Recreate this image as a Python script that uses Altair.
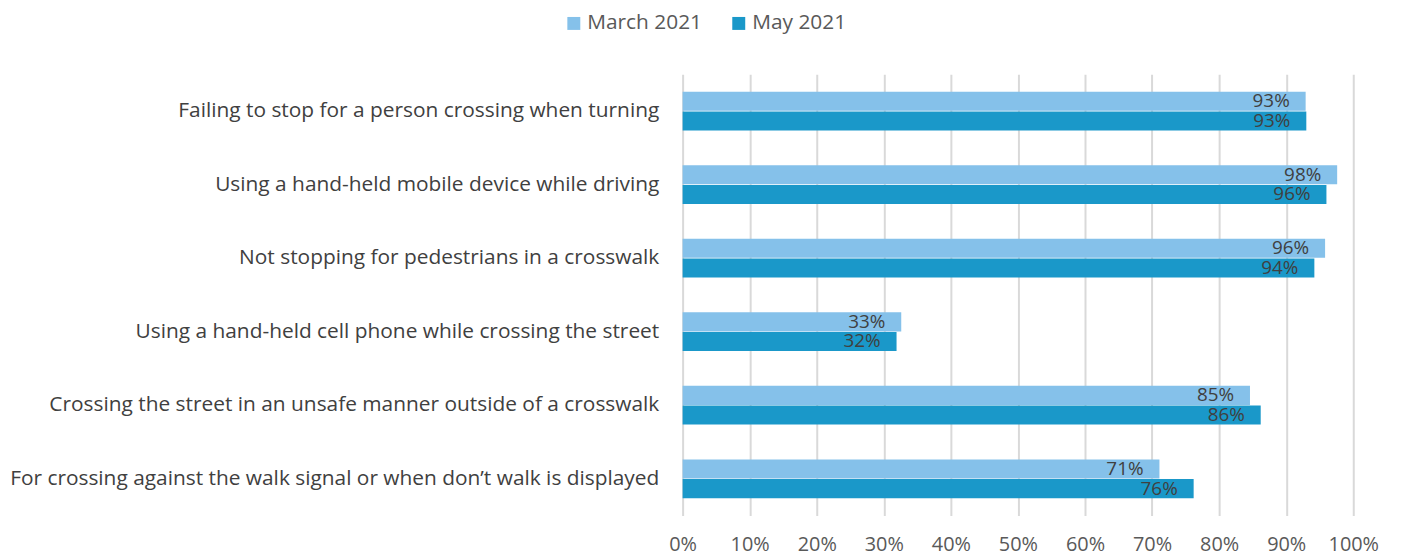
import altair as alt
import pandas as pd

categories = [
    "Failing to stop for a person crossing when turning",
    "Using a hand-held mobile device while driving",
    "Not stopping for pedestrians in a crosswalk",
    "Using a hand-held cell phone while crossing the street",
    "Crossing the street in an unsafe manner outside of a crosswalk",
    "For crossing against the walk signal or when don\u2019t walk is displayed",
]
series = ["March 2021", "May 2021"]
march_2021 = [0.929, 0.976, 0.958, 0.326, 0.846, 0.711]
may_2021 = [0.930, 0.960, 0.942, 0.319, 0.862, 0.762]
colors = ["#85C1EA", "#1A98C9"]
tick_values = [0, 0.1, 0.2, 0.3, 0.4, 0.5, 0.6, 0.7, 0.8, 0.9, 1.0]

rows = []
for c, a, b in zip(categories, march_2021, may_2021):
    rows.append({"category": c, "series": series[0], "value": a})
    rows.append({"category": c, "series": series[1], "value": b})
df = pd.DataFrame(rows)

FONT = "Open Sans"

y_enc = alt.Y(
    "category:N",
    sort=categories,
    scale=alt.Scale(paddingInner=0.473, paddingOuter=0.236),
    axis=alt.Axis(
        title=None,
        domain=False,
        ticks=False,
        grid=False,
        labelFont=FONT,
        labelFontSize=21,
        labelColor="#404040",
        labelPadding=24,
        labelLimit=900,
    ),
)
x_enc = alt.X(
    "value:Q",
    scale=alt.Scale(domain=[0, 1], nice=False),
    axis=alt.Axis(
        title=None,
        values=tick_values,
        format=".0%",
        domain=False,
        ticks=False,
        grid=True,
        gridColor="#d9d9d9",
        gridWidth=2,
        labelFont=FONT,
        labelFontSize=20,
        labelColor="#595959",
        labelPadding=19,
        labelOverlap=False,
        labelFlush=False,
    ),
)
yoff = alt.YOffset("series:N", sort=series, scale=alt.Scale(paddingInner=0.03))

bars = alt.Chart(df).mark_bar().encode(
    y=y_enc,
    x=x_enc,
    yOffset=yoff,
    color=alt.Color(
        "series:N",
        sort=series,
        scale=alt.Scale(domain=series, range=colors),
        legend=alt.Legend(
            title=None,
            orient="none",
            direction="horizontal",
            legendX=-120,
            legendY=-62,
            symbolType="square",
            symbolSize=170,
            symbolStrokeWidth=0,
            labelFont=FONT,
            labelFontSize=21,
            labelColor="#595959",
            labelOffset=3,
            columnPadding=26,
        ),
    ),
)

labels = alt.Chart(df).mark_text(
    align="right", baseline="middle", dx=-16, font=FONT, fontSize=19, color="#404040"
).encode(
    y=alt.Y("category:N", sort=categories),
    x=alt.X("value:Q"),
    yOffset=alt.YOffset("series:N", sort=series),
    text=alt.Text("value:Q", format=".0%"),
)

chart = (
    alt.layer(bars, labels)
    .properties(
        width=675,
        height=444,
        padding={"left": 679, "top": 65, "right": 40, "bottom": 40},
        autosize=alt.AutoSizeParams(type="none"),
    )
    .configure_view(stroke=None)
)

chart.save("out.html", embed_options={"renderer": "svg", "actions": False})
